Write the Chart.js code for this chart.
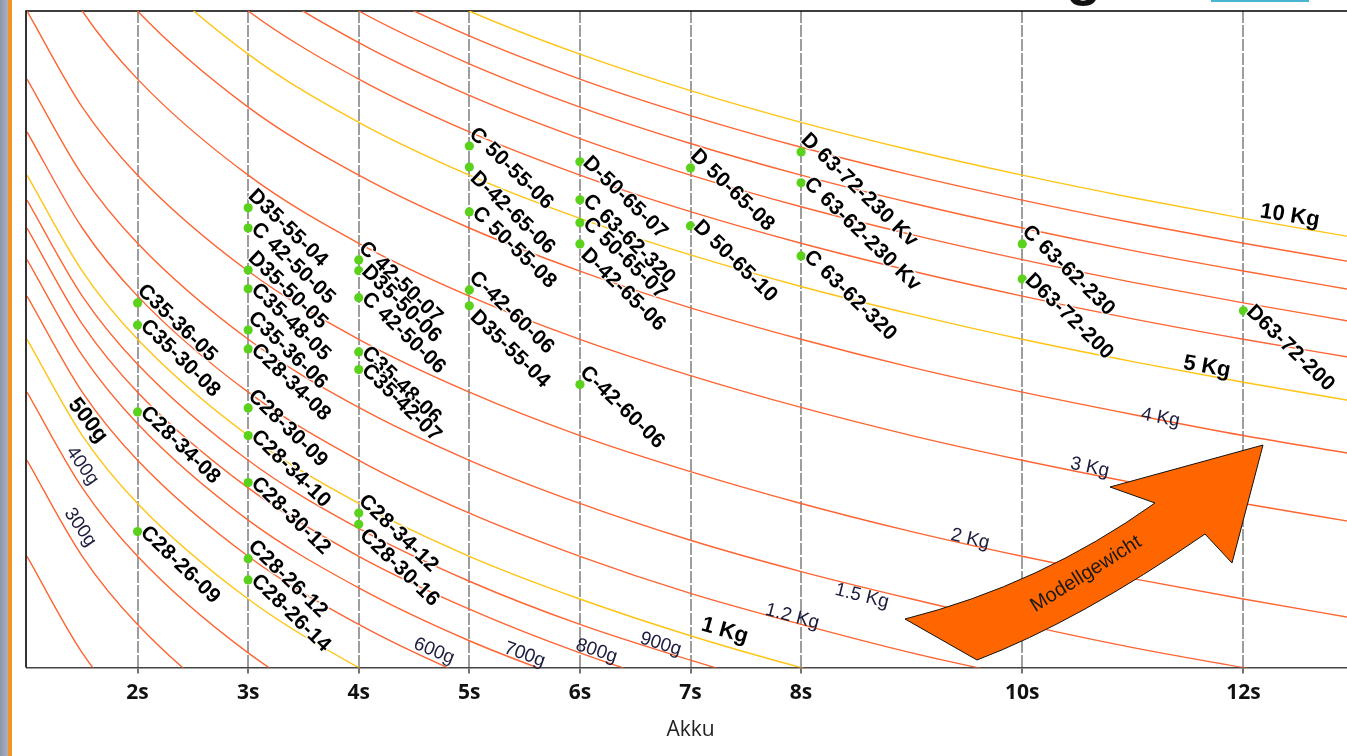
<!DOCTYPE html>
<html>
<head>
<meta charset="utf-8">
<script src="https://cdn.jsdelivr.net/npm/chart.js@4.4.1/dist/chart.umd.min.js"></script>
<style>
  html, body { margin: 0; padding: 0; background: #fff; overflow: hidden; }
  #wrap { position: relative; width: 1347px; height: 756px; overflow: hidden; background: #fff; }
  #strip { position: absolute; left: 0; top: 0; width: 8px; height: 756px; background: linear-gradient(90deg, #8b95aa, #aab2c3); }
  #bar { position: absolute; left: 8px; top: 0; width: 4px; height: 756px; background: #f39321; }
  canvas { position: absolute; left: 0; top: 0; }
</style>
</head>
<body>
<div id="wrap">
  <canvas id="chart" width="1370" height="756"></canvas>
  <div id="strip"></div>
  <div id="bar"></div>
</div>
<script>
// x positions (Akku cells) where the weight curves were read
const cells = [1, 1.5, 2, 3, 4, 5, 6, 7, 8, 9, 10, 11, 12, 13];
const tickCells = [2, 3, 4, 5, 6, 7, 8, 10, 12];

// weight curves, read along the cell positions above (hidden log axis)
const w200 = [0.2, 0.133, 0.1, 0.0667, 0.05, 0.04, 0.0333, 0.0286, 0.025, 0.0222, 0.02, 0.0182, 0.0167, 0.0154];
const w300 = [0.3, 0.2, 0.15, 0.1, 0.075, 0.06, 0.05, 0.0429, 0.0375, 0.0333, 0.03, 0.0273, 0.025, 0.0231];
const w400 = [0.4, 0.267, 0.2, 0.133, 0.1, 0.08, 0.0667, 0.0571, 0.05, 0.0444, 0.04, 0.0364, 0.0333, 0.0308];
const w500 = [0.5, 0.333, 0.25, 0.167, 0.125, 0.1, 0.0833, 0.0714, 0.0625, 0.0556, 0.05, 0.0455, 0.0417, 0.0385];
const w600 = [0.6, 0.4, 0.3, 0.2, 0.15, 0.12, 0.1, 0.0857, 0.075, 0.0667, 0.06, 0.0545, 0.05, 0.0462];
const w700 = [0.7, 0.467, 0.35, 0.233, 0.175, 0.14, 0.117, 0.1, 0.0875, 0.0778, 0.07, 0.0636, 0.0583, 0.0538];
const w800 = [0.8, 0.533, 0.4, 0.267, 0.2, 0.16, 0.133, 0.114, 0.1, 0.0889, 0.08, 0.0727, 0.0667, 0.0615];
const w900 = [0.9, 0.6, 0.45, 0.3, 0.225, 0.18, 0.15, 0.129, 0.1125, 0.1, 0.09, 0.0818, 0.075, 0.0692];
const w1k = [1, 0.667, 0.5, 0.333, 0.25, 0.2, 0.167, 0.143, 0.125, 0.111, 0.1, 0.0909, 0.0833, 0.0769];
const w1k2 = [1.2, 0.8, 0.6, 0.4, 0.3, 0.24, 0.2, 0.171, 0.15, 0.133, 0.12, 0.109, 0.1, 0.0923];
const w1k5 = [1.5, 1, 0.75, 0.5, 0.375, 0.3, 0.25, 0.214, 0.1875, 0.167, 0.15, 0.136, 0.125, 0.115];
const w2k = [2, 1.333, 1, 0.667, 0.5, 0.4, 0.333, 0.286, 0.25, 0.222, 0.2, 0.182, 0.167, 0.154];
const w3k = [3, 2, 1.5, 1, 0.75, 0.6, 0.5, 0.429, 0.375, 0.333, 0.3, 0.273, 0.25, 0.231];
const w4k = [4, 2.667, 2, 1.333, 1, 0.8, 0.667, 0.571, 0.5, 0.444, 0.4, 0.364, 0.333, 0.308];
const w5k = [5, 3.333, 2.5, 1.667, 1.25, 1, 0.833, 0.714, 0.625, 0.556, 0.5, 0.455, 0.417, 0.385];
const w6k = [6, 4, 3, 2, 1.5, 1.2, 1, 0.857, 0.75, 0.667, 0.6, 0.545, 0.5, 0.462];
const w7k = [7, 4.667, 3.5, 2.333, 1.75, 1.4, 1.167, 1, 0.875, 0.778, 0.7, 0.636, 0.583, 0.538];
const w8k = [8, 5.333, 4, 2.667, 2, 1.6, 1.333, 1.143, 1, 0.889, 0.8, 0.727, 0.667, 0.615];
const w9k = [9, 6, 4.5, 3, 2.25, 1.8, 1.5, 1.286, 1.125, 1, 0.9, 0.818, 0.75, 0.692];
const w10k = [10, 6.667, 5, 3.333, 2.5, 2, 1.667, 1.429, 1.25, 1.111, 1, 0.909, 0.833, 0.769];

const curveList = [w200, w300, w400, w500, w600, w700, w800, w900, w1k, w1k2, w1k5, w2k, w3k, w4k, w5k, w6k, w7k, w8k, w9k, w10k];
const highlighted = [w500, w1k, w5k, w10k];

// motors (green points)
const dotNames = [
  "C35-36-05", "C35-30-08", "C28-34-08", "C28-26-09",
  "D35-55-04", "C 42-50-05", "D35-50-05", "C35-48-05", "C35-36-06", "C28-34-08", "C28-30-09", "C28-34-10", "C28-30-12", "C28-26-12", "C28-26-14",
  "C 42-50-07", "D35-50-06", "C 42-50-06", "C35-48-06", "C35-42-07", "C28-34-12", "C28-30-16",
  "C 50-55-06", "D-42-65-06", "C 50-55-08", "C-42-60-06", "D35-55-04",
  "D-50-65-07", "C 63-62-320", "C 50-65-07", "D-42-65-06", "C-42-60-06",
  "D 50-65-08", "D 50-65-10",
  "D 63-72-230 Kv", "C 63-62-230 Kv", "C 63-62-320",
  "C 63-62-230", "D63-72-200",
  "D63-72-200"
];
const dotCells = [
  2, 2, 2, 2,
  3, 3, 3, 3, 3, 3, 3, 3, 3, 3, 3,
  4, 4, 4, 4, 4, 4, 4,
  5, 5, 5, 5, 5,
  6, 6, 6, 6, 6,
  7, 7,
  8, 8, 8,
  10, 10,
  12
];
const dotValues = [
  0.583, 0.531, 0.368, 0.222,
  0.871, 0.800, 0.670, 0.619, 0.520, 0.480, 0.374, 0.333, 0.273, 0.198, 0.181,
  0.699, 0.668, 0.596, 0.474, 0.440, 0.240, 0.229,
  1.131, 1.035, 0.856, 0.616, 0.576,
  1.058, 0.901, 0.818, 0.748, 0.413,
  1.031, 0.807,
  1.103, 0.968, 0.711,
  0.748, 0.645,
  0.564
];

// label placement beside each point: 1 above, 0 level, -1 below
const labelSide = [
  1, 0, 0, 0,
  1, 0, 1, 0, 1, 0, 1, 0, 0, 1, 0,
  1, 0, 0, 0, 0, 1, -1,
  1, -1, 0, 1, -1,
  0, 0, 0, -1, 1,
  1, 0,
  1, 0, 0,
  1, 0,
  0
];

// curve captions
const curveText = ["500g", "400g", "300g", "600g", "700g", "800g", "900g", "1 Kg", "1.2 Kg", "1.5 Kg", "2 Kg", "3 Kg", "4 Kg", "5 Kg", "10 Kg"];
const curveTextCell = [1.55, 1.50, 1.48, 4.68, 5.50, 6.15, 6.73, 7.31, 7.92, 8.55, 9.53, 10.61, 11.25, 11.67, 12.42];
const curveTextValue = [0.355, 0.293, 0.226, 0.134, 0.132, 0.134, 0.138, 0.146, 0.155, 0.169, 0.215, 0.291, 0.359, 0.445, 0.842];
const curveTextAngle = [52, 54, 55, 22, 20, 18, 17, 16, 15, 14, 13, 12, 11, 10, 9];
const curveTextBold = [true, false, false, false, false, false, false, true, false, false, false, false, false, true, true];

const RED = "#ff6533";
const YELLOW = "#ffc414";

const curveDatasets = curveList.map((vals) => ({
  data: vals.map((v, i) => ({ x: cells[i], y: v })),
  borderColor: highlighted.includes(vals) ? YELLOW : RED,
  borderWidth: 1.4,
  pointRadius: 0,
  cubicInterpolationMode: "monotone",
  fill: false,
  order: 1,
}));

const dotDataset = {
  data: dotValues.map((v, i) => ({ x: dotCells[i], y: v })),
  showLine: false,
  pointRadius: 4.6,
  pointBackgroundColor: "#5ad11b",
  pointBorderWidth: 0,
  order: 0,
};

const framePlugin = {
  id: "frame",
  beforeDatasetsDraw(chart) {
    const { ctx, chartArea } = chart;
    ctx.save();
    ctx.strokeStyle = "#000";
    ctx.lineWidth = 1.6;
    ctx.beginPath();
    ctx.moveTo(chartArea.left - 1, chartArea.bottom);
    ctx.lineTo(chartArea.left - 1, chartArea.top);
    ctx.lineTo(chartArea.right + 20, chartArea.top);
    ctx.stroke();
    ctx.restore();
  },
};

const arrowPlugin = {
  id: "arrow",
  afterDatasetsDraw(chart) {
    const { ctx, chartArea } = chart;
    const ox = chartArea.left - 27, oy = chartArea.top - 11;
    const p = (x, y) => [x + ox, y + oy];
    ctx.save();
    ctx.beginPath();
    ctx.moveTo(...p(905, 619));
    ctx.quadraticCurveTo(...p(1040, 585), ...p(1155, 503));
    ctx.lineTo(...p(1110, 487));
    ctx.lineTo(...p(1263, 445));
    ctx.lineTo(...p(1232, 563));
    ctx.lineTo(...p(1205, 534));
    ctx.quadraticCurveTo(...p(1079, 621), ...p(977, 660));
    ctx.closePath();
    ctx.fillStyle = "#ff6600";
    ctx.fill();
    ctx.strokeStyle = "#111";
    ctx.lineWidth = 1;
    ctx.stroke();

    ctx.translate(...p(1086, 574));
    ctx.rotate(-32 * Math.PI / 180);
    ctx.font = '20px "Liberation Sans", Arial, sans-serif';
    ctx.fillStyle = "#1a1a1a";
    ctx.textAlign = "center";
    ctx.textBaseline = "middle";
    ctx.fillText("Modellgewicht", 0, 0);
    ctx.restore();
  },
};

const labelPlugin = {
  id: "labels",
  afterDatasetsDraw(chart) {
    const { ctx } = chart;
    const xs = chart.scales.x, ys = chart.scales.y;
    ctx.save();
    ctx.textAlign = "left";
    ctx.textBaseline = "middle";

    // curve captions
    curveText.forEach((t, i) => {
      const px = xs.getPixelForValue(curveTextCell[i]);
      const py = ys.getPixelForValue(curveTextValue[i]);
      ctx.save();
      ctx.translate(px, py);
      ctx.rotate(curveTextAngle[i] * Math.PI / 180);
      ctx.textAlign = "center";
      ctx.font = curveTextBold[i]
        ? 'bold 22px "Liberation Sans", Arial, sans-serif'
        : '19px "Liberation Sans", Arial, sans-serif';
      ctx.fillStyle = curveTextBold[i] ? "#000" : "#1c1c3e";
      ctx.fillText(t, 0, 0);
      ctx.restore();
    });

    // motor names
    const offsets = { "1": [3, -15], "0": [6, -2], "-1": [4, 8] };
    ctx.font = 'bold 21px "Liberation Sans", Arial, sans-serif';
    ctx.letterSpacing = "0.3px";
    dotNames.forEach((name, i) => {
      const px = xs.getPixelForValue(dotCells[i]);
      const py = ys.getPixelForValue(dotValues[i]);
      const off = offsets[String(labelSide[i])];
      ctx.save();
      ctx.translate(px + off[0], py + off[1]);
      ctx.rotate(44 * Math.PI / 180);
      ctx.lineWidth = 2.5;
      ctx.strokeStyle = "rgba(255,255,255,0.9)";
      ctx.strokeText(name, 0, 0);
      ctx.fillStyle = "#000";
      ctx.fillText(name, 0, 0);
      ctx.restore();
    });
    ctx.restore();
  },
};

const decorPlugin = {
  id: "decor",
  afterDraw(chart) {
    const { ctx } = chart;
    ctx.save();
    // bottom of the page title, cut off by the frame
    ctx.font = 'bold 58px "Liberation Sans", Arial, sans-serif';
    ctx.fillStyle = "#111";
    ctx.textBaseline = "alphabetic";
    ctx.fillText("g", 1066, -6);
    ctx.strokeStyle = "#48b6d2";
    ctx.lineWidth = 2;
    ctx.strokeRect(1212, -30, 96, 31);
    ctx.restore();
  },
};

new Chart(document.getElementById("chart"), {
  type: "line",
  data: { datasets: [dotDataset, ...curveDatasets] },
  options: {
    responsive: false,
    animation: false,
    events: [],
    layout: { padding: { left: 27, top: 11, right: 16, bottom: 9 } },
    plugins: { legend: { display: false }, tooltip: { enabled: false } },
    scales: {
      x: {
        type: "linear",
        min: 1,
        max: 13,
        afterBuildTicks: (scale) => {
          scale.ticks = tickCells.map((v) => ({ value: v }));
        },
        ticks: {
          callback: (v) => v + "s",
          font: { family: '"Open Sans", sans-serif', weight: "bold", size: 21 },
          color: "#111",
          padding: 7,
          autoSkip: false,
          maxRotation: 0,
        },
        grid: {
          color: "#9d9d9d",
          lineWidth: 2,
          tickLength: 6,
          tickColor: "#444",
          tickWidth: 1.5,
          tickBorderDash: [],
        },
        border: { display: true, color: "#444", width: 1.5, dash: [12, 2] },
        title: {
          display: true,
          text: "Akku",
          font: { family: '"Open Sans", sans-serif', size: 21 },
          color: "#222",
          padding: { top: 5, bottom: 4 },
        },
      },
      y: {
        type: "logarithmic",
        min: 0.125,
        max: 2,
        display: false,
      },
    },
  },
  plugins: [framePlugin, arrowPlugin, labelPlugin, decorPlugin],
});
</script>
</body>
</html>
